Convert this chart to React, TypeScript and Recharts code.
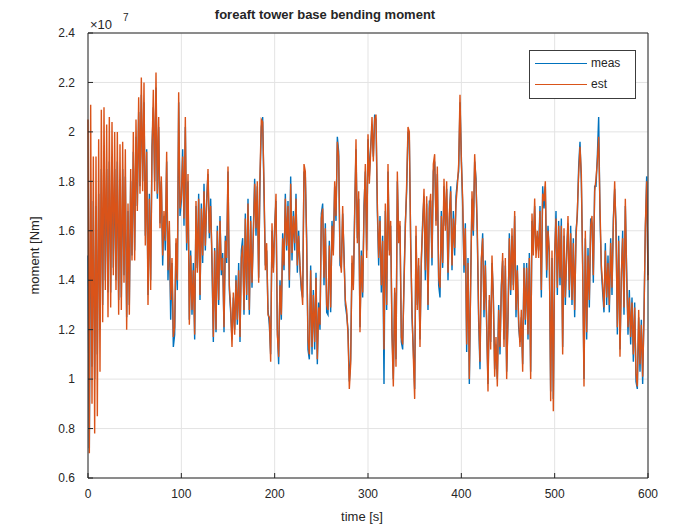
import {
    LineChart,
    Line,
    XAxis,
    YAxis,
    CartesianGrid,
    Legend,
    Label
} from "recharts";

// moment in units of 1e7 Nm, 70 samples per 100 s block
const est0 = [2.05, 0.70, 2.11, 0.90, 1.90, 0.78, 1.90, 0.85, 1.97, 1.03, 2.09, 1.23, 2.10, 1.36, 2.03, 1.25, 2.06, 1.29, 2.04, 1.42, 2.00, 1.36, 2.00, 1.26, 1.95, 1.28, 1.96, 1.39, 1.93, 1.20, 1.71, 1.26, 1.85, 1.48, 2.00, 1.48, 2.05, 1.68, 2.14, 1.75, 2.22, 1.76, 2.20, 1.54, 1.92, 1.30, 1.73, 1.36, 1.92, 2.17, 1.76, 2.24, 1.75, 2.06, 1.61, 1.82, 1.50, 1.68, 1.56, 1.92, 1.44, 1.64, 1.32, 1.49, 1.17, 1.21, 1.57, 1.40, 2.16, 1.69];
const est1 = [1.74, 1.90, 1.65, 2.06, 1.55, 1.83, 1.22, 1.50, 1.28, 1.44, 1.18, 1.72, 1.43, 1.73, 1.34, 1.69, 1.50, 1.76, 1.54, 1.71, 1.85, 1.59, 1.70, 1.49, 1.17, 1.52, 1.20, 1.60, 1.32, 1.64, 1.44, 1.49, 1.21, 1.56, 1.49, 1.86, 1.38, 1.29, 1.13, 1.35, 1.18, 1.40, 1.24, 1.44, 1.17, 1.49, 1.54, 1.28, 1.65, 1.34, 1.71, 1.28, 1.64, 1.39, 1.58, 1.79, 1.61, 1.80, 1.39, 1.83, 2.05, 2.04, 1.79, 1.44, 1.55, 1.26, 1.25, 1.07, 1.63, 1.43];
const est2 = [1.60, 1.75, 1.18, 1.09, 1.38, 1.26, 1.57, 1.46, 1.73, 1.54, 1.70, 1.40, 1.79, 1.51, 1.66, 1.55, 1.73, 1.46, 1.58, 1.46, 1.38, 1.30, 1.87, 1.84, 1.54, 1.16, 1.10, 1.44, 1.13, 1.34, 1.15, 1.41, 1.08, 1.29, 1.22, 1.65, 1.69, 1.41, 1.61, 1.30, 1.28, 1.54, 1.29, 1.62, 1.50, 1.80, 1.66, 1.96, 1.90, 1.50, 1.43, 1.70, 1.49, 1.32, 1.28, 1.18, 0.96, 1.06, 1.50, 1.36, 1.66, 1.97, 1.55, 1.76, 1.19, 1.50, 1.35, 1.67, 1.87, 1.49];
const est3 = [1.99, 1.79, 1.92, 2.06, 1.88, 2.05, 2.07, 1.71, 1.49, 1.64, 1.38, 1.56, 1.12, 1.71, 1.30, 1.87, 1.50, 1.64, 1.17, 0.97, 1.37, 1.05, 1.84, 1.55, 1.64, 1.17, 1.14, 1.38, 1.61, 1.79, 2.02, 2.00, 1.54, 1.28, 1.09, 0.92, 1.62, 1.28, 1.49, 1.13, 1.49, 1.62, 1.77, 1.44, 1.74, 1.30, 1.69, 1.75, 1.49, 1.87, 1.91, 1.62, 1.86, 1.41, 1.37, 1.66, 1.47, 1.81, 1.60, 1.80, 1.43, 1.67, 1.76, 1.46, 1.65, 1.53, 1.71, 1.78, 1.87, 2.15];
const est4 = [1.88, 1.73, 1.46, 1.61, 1.14, 1.47, 1.00, 1.38, 1.76, 1.60, 1.91, 1.79, 1.60, 1.26, 1.07, 1.49, 1.57, 1.28, 1.46, 1.24, 0.95, 1.34, 1.12, 1.50, 1.32, 1.01, 1.17, 0.97, 1.28, 1.13, 1.36, 1.51, 1.13, 1.49, 1.00, 1.26, 1.57, 1.36, 1.61, 1.36, 1.68, 1.28, 1.44, 1.24, 1.13, 1.28, 1.03, 1.45, 1.24, 1.45, 1.18, 1.49, 1.00, 1.67, 1.50, 1.73, 1.49, 1.60, 1.49, 1.68, 1.36, 1.75, 1.72, 1.80, 1.44, 1.60, 1.52, 0.91, 1.52, 0.87];
const est5 = [1.51, 1.65, 1.37, 1.62, 1.41, 1.62, 1.10, 1.61, 1.33, 1.49, 1.66, 1.36, 1.59, 1.32, 1.55, 1.28, 1.57, 1.68, 1.83, 1.94, 1.83, 1.44, 0.97, 1.60, 1.19, 1.50, 1.32, 1.62, 1.66, 1.42, 1.76, 1.81, 1.88, 1.98, 1.69, 1.46, 1.38, 1.29, 1.52, 1.33, 1.47, 1.30, 1.55, 1.37, 1.62, 1.80, 1.60, 1.21, 1.56, 1.09, 1.43, 1.57, 1.29, 1.73, 1.41, 1.21, 1.33, 1.17, 1.31, 1.10, 1.29, 1.02, 0.97, 1.28, 1.06, 1.22, 1.01, 1.25, 1.62, 1.80, 1.40];

const meas0 = [1.50, 0.72, 1.80, 1.05, 1.72, 1.00, 1.70, 1.10, 1.75, 1.20, 1.85, 1.30, 1.90, 1.40, 1.85, 1.35, 1.88, 1.35, 1.90, 1.45, 1.85, 1.40, 1.88, 1.32, 1.80, 1.33, 1.85, 1.42, 1.82, 1.25, 1.68, 1.30, 1.80, 1.50, 1.92, 1.52, 1.98, 1.70, 2.08, 1.78, 2.15, 1.80, 2.12, 1.58, 1.93, 1.34, 1.75, 1.40, 1.94, 2.10, 1.80, 2.18, 1.73, 2.02, 1.63, 1.80, 1.46, 1.66, 1.52, 1.88, 1.40, 1.60, 1.24, 1.47, 1.13, 1.18, 1.55, 1.36, 2.12, 1.66];
const meas1 = [1.72, 1.93, 1.62, 2.02, 1.52, 1.80, 1.24, 1.52, 1.26, 1.47, 1.16, 1.70, 1.45, 1.75, 1.32, 1.71, 1.47, 1.79, 1.52, 1.73, 1.83, 1.57, 1.73, 1.46, 1.15, 1.53, 1.19, 1.62, 1.30, 1.66, 1.42, 1.51, 1.19, 1.58, 1.47, 1.84, 1.36, 1.27, 1.16, 1.33, 1.20, 1.42, 1.22, 1.47, 1.15, 1.52, 1.57, 1.26, 1.67, 1.32, 1.73, 1.26, 1.66, 1.37, 1.60, 1.81, 1.58, 1.78, 1.41, 1.80, 2.02, 2.06, 1.75, 1.46, 1.52, 1.28, 1.22, 1.10, 1.60, 1.45];
const meas2 = [1.62, 1.72, 1.20, 1.06, 1.40, 1.24, 1.59, 1.44, 1.75, 1.52, 1.72, 1.37, 1.82, 1.48, 1.68, 1.52, 1.75, 1.43, 1.60, 1.44, 1.36, 1.33, 1.84, 1.82, 1.57, 1.12, 1.08, 1.46, 1.10, 1.36, 1.12, 1.43, 1.06, 1.31, 1.20, 1.67, 1.71, 1.38, 1.63, 1.27, 1.26, 1.56, 1.27, 1.64, 1.52, 1.78, 1.64, 1.98, 1.92, 1.46, 1.45, 1.67, 1.51, 1.30, 1.26, 1.20, 0.99, 1.08, 1.47, 1.38, 1.68, 1.93, 1.57, 1.73, 1.21, 1.52, 1.33, 1.70, 1.84, 1.52];
const meas3 = [1.97, 1.82, 1.94, 2.03, 1.90, 2.07, 2.05, 1.68, 1.46, 1.66, 1.35, 1.58, 0.98, 1.68, 1.28, 1.84, 1.52, 1.62, 1.20, 1.00, 1.35, 1.08, 1.80, 1.57, 1.62, 1.15, 1.12, 1.40, 1.63, 1.76, 2.00, 1.97, 1.57, 1.25, 1.12, 0.96, 1.58, 1.30, 1.46, 1.16, 1.47, 1.64, 1.74, 1.40, 1.71, 1.28, 1.72, 1.72, 1.46, 1.84, 1.88, 1.64, 1.83, 1.38, 1.33, 1.68, 1.45, 1.78, 1.62, 1.77, 1.40, 1.64, 1.78, 1.44, 1.68, 1.50, 1.74, 1.80, 1.84, 2.12];
const meas4 = [1.90, 1.70, 1.43, 1.63, 1.11, 1.49, 0.98, 1.40, 1.73, 1.58, 1.88, 1.81, 1.57, 1.23, 1.04, 1.47, 1.59, 1.25, 1.48, 1.21, 0.98, 1.32, 1.15, 1.47, 1.34, 1.04, 1.14, 1.00, 1.30, 1.10, 1.38, 1.48, 1.16, 1.46, 1.03, 1.24, 1.59, 1.34, 1.58, 1.38, 1.66, 1.25, 1.46, 1.21, 1.15, 1.25, 1.06, 1.47, 1.22, 1.47, 1.16, 1.51, 1.03, 1.64, 1.53, 1.70, 1.52, 1.58, 1.52, 1.70, 1.33, 1.78, 1.69, 1.78, 1.41, 1.62, 1.49, 0.95, 1.49, 0.92];
const meas5 = [1.49, 1.68, 1.34, 1.64, 1.38, 1.65, 1.13, 1.58, 1.30, 1.52, 1.63, 1.33, 1.62, 1.30, 1.57, 1.25, 1.60, 1.66, 1.86, 1.96, 1.80, 1.47, 1.00, 1.57, 1.16, 1.53, 1.29, 1.65, 1.63, 1.39, 1.78, 1.78, 1.90, 2.06, 1.66, 1.44, 1.35, 1.27, 1.55, 1.30, 1.50, 1.27, 1.57, 1.34, 1.65, 1.77, 1.63, 1.18, 1.58, 1.12, 1.40, 1.60, 1.26, 1.70, 1.44, 1.18, 1.36, 1.14, 1.33, 1.07, 1.31, 0.99, 0.96, 1.25, 1.03, 1.24, 0.98, 1.27, 1.60, 1.82, 1.42];

const estBlocks = [est0, est1, est2, est3, est4, est5];
const measBlocks = [meas0, meas1, meas2, meas3, meas4, meas5];
const blockSeconds = 100;
const samplesPerBlock = 70;

const seriesNames = ["meas", "est"];
const xTicks = [0, 100, 200, 300, 400, 500, 600];
const yTicks = [0.6, 0.8, 1.0, 1.2, 1.4, 1.6, 1.8, 2.0, 2.2, 2.4];

const data = estBlocks.flatMap((block, b) =>
    block.map((v, i) => ({
        time: b * blockSeconds + i * blockSeconds / samplesPerBlock,
        meas: measBlocks[b][i],
        est: v
    }))
);

const FONT = "'Liberation Sans', Arial, Helvetica, sans-serif";
const INK = "#262626";
const MEAS_COLOR = "#0072BD";
const EST_COLOR = "#D95319";

const fmtY = (v: number) => String(Number(v.toFixed(1)));

function TitleLabel(props: any) {
    const vb = props.viewBox;
    return (
        <g fontFamily={FONT} fill={INK}>
            <text x={vb.x + 237} y={vb.y + 19} textAnchor="middle" fontSize={13} fontWeight="bold">
                foreaft tower base bending moment
            </text>
            <text x={vb.x + 2} y={vb.y + 29} fontSize={13}>
                ×10
            </text>
            <text x={vb.x + 35} y={vb.y + 21} fontSize={10}>
                7
            </text>
        </g>
    );
}

function XAxisLabel(props: any) {
    const vb = props.viewBox;
    return (
        <text x={vb.x + 274} y={vb.y + 43} textAnchor="middle" fontSize={13} fontFamily={FONT} fill={INK}>
            time [s]
        </text>
    );
}

function YAxisLabel(props: any) {
    const vb = props.viewBox;
    const cx = vb.x + 39;
    const cy = vb.y + vb.height / 2;
    return (
        <text
            x={cx}
            y={cy}
            transform={`rotate(-90, ${cx}, ${cy})`}
            textAnchor="middle"
            fontSize={13}
            fontFamily={FONT}
            fill={INK}
        >
            moment [Nm]
        </text>
    );
}

function LegendBox(props: any) {
    const payload = [...(props.payload || [])].sort(
        (a: any, b: any) => seriesNames.indexOf(a.value) - seriesNames.indexOf(b.value)
    );
    return (
        <div
            style={{
                width: 107,
                height: 49,
                boxSizing: "border-box",
                border: "1px solid #3c3c3c",
                background: "#fff",
                position: "relative",
                fontFamily: FONT,
                fontSize: 12,
                color: INK
            }}
        >
            {payload.map((p: any, i: number) => (
                <div
                    key={p.value}
                    style={{
                        position: "absolute",
                        left: 5,
                        top: 5 + i * 21,
                        height: 14,
                        display: "flex",
                        alignItems: "center",
                        whiteSpace: "nowrap"
                    }}
                >
                    <svg width={52} height={14}>
                        <line x1={0} x2={52} y1={7.5} y2={7.5} stroke={p.color} strokeWidth={1} />
                    </svg>
                    <span style={{ marginLeft: 4, lineHeight: "14px" }}>{p.value}</span>
                </div>
            ))}
        </div>
    );
}

export default function App() {
    return (
        <div style={{ position: "absolute", left: 0, top: 0, width: 674, height: 528, background: "#fff" }}>
            <LineChart
                width={674}
                height={528}
                data={data}
                margin={{ top: 0, right: 0, bottom: 0, left: 0 }}
                style={{ fontFamily: FONT }}
            >
                <CartesianGrid xAxisId="bottom" yAxisId="left" stroke="#e3e3e3" />

                <XAxis
                    xAxisId="bottom"
                    dataKey="time"
                    type="number"
                    domain={[0, 600]}
                    ticks={xTicks}
                    interval={0}
                    height={50}
                    tickSize={-5}
                    tickMargin={16}
                    axisLine={{ stroke: INK }}
                    tickLine={{ stroke: INK }}
                    tick={{ fill: INK, fontSize: 12 }}
                >
                    <Label content={XAxisLabel} />
                </XAxis>

                <XAxis
                    xAxisId="top"
                    orientation="top"
                    dataKey="time"
                    type="number"
                    domain={[0, 600]}
                    ticks={xTicks}
                    interval={0}
                    height={33}
                    tickSize={-5}
                    tick={false}
                    axisLine={{ stroke: INK }}
                    tickLine={{ stroke: INK }}
                >
                    <Label content={TitleLabel} />
                </XAxis>

                <YAxis
                    yAxisId="left"
                    type="number"
                    domain={[0.6, 2.4]}
                    ticks={yTicks}
                    interval={0}
                    width={88}
                    tickSize={-5}
                    tickMargin={18}
                    tickFormatter={fmtY}
                    axisLine={{ stroke: INK }}
                    tickLine={{ stroke: INK }}
                    tick={{ fill: INK, fontSize: 12 }}
                >
                    <Label content={YAxisLabel} />
                </YAxis>

                <YAxis
                    yAxisId="right"
                    orientation="right"
                    type="number"
                    domain={[0.6, 2.4]}
                    ticks={yTicks}
                    interval={0}
                    width={26}
                    tickSize={-5}
                    tick={false}
                    axisLine={{ stroke: INK }}
                    tickLine={{ stroke: INK }}
                />

                <Legend
                    layout="vertical"
                    align="center"
                    verticalAlign="middle"
                    wrapperStyle={{ left: 529, top: 50, width: 107, height: 49 }}
                    content={LegendBox}
                />

                <Line
                    xAxisId="bottom"
                    yAxisId="left"
                    name="meas"
                    dataKey="meas"
                    type="linear"
                    stroke={MEAS_COLOR}
                    strokeWidth={1.4}
                    dot={false}
                    activeDot={false}
                    isAnimationActive={false}
                />

                <Line
                    xAxisId="bottom"
                    yAxisId="left"
                    name="est"
                    dataKey="est"
                    type="linear"
                    stroke={EST_COLOR}
                    strokeWidth={1.4}
                    dot={false}
                    activeDot={false}
                    isAnimationActive={false}
                />
            </LineChart>
        </div>
    );
}
